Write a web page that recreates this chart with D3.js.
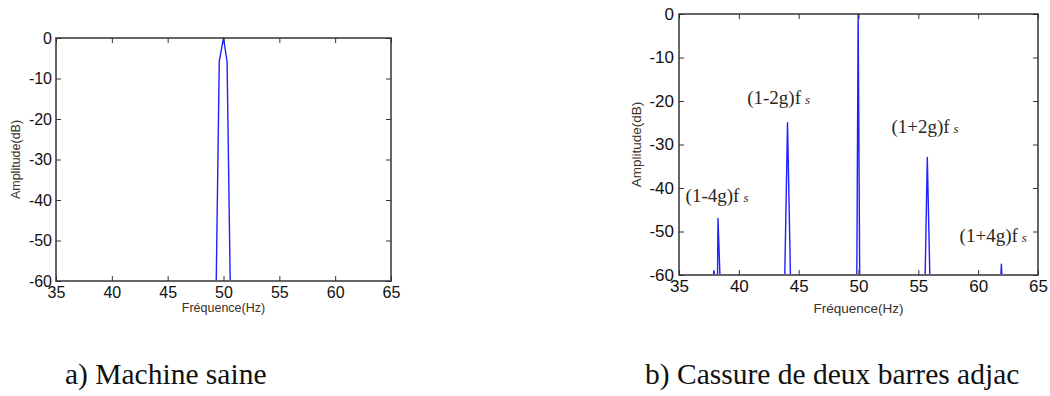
<!DOCTYPE html>
<html>
<head>
<meta charset="utf-8">
<script src="https://cdn.jsdelivr.net/npm/d3@7"></script>
<style>
  html, body { margin: 0; padding: 0; background: #fff; }
  svg { display: block; }
</style>
</head>
<body>
<svg id="fig" width="1050" height="396"></svg>
<script>
// Shared axes (frequency in Hz, amplitude in dB)
const xTicks = [35, 40, 45, 50, 55, 60, 65];
const yTicks = [0, -10, -20, -30, -40, -50, -60];

// a) Healthy machine: single fundamental line at 50 Hz
const healthyFreq = [49.35, 49.62, 50.0, 50.32, 50.6];
const healthyAmp  = [-60, -5.8, 0, -5.8, -60];

// b) Two adjacent broken bars: fundamental plus (1±2kg)fs sidebands
const brokenFreq = [37.88, 37.92, 37.96, 38.22, 38.26, 38.42, 43.84, 44.07, 44.31,
                    49.86, 49.97, 50.1, 55.57, 55.75, 55.96, 61.9, 61.94, 61.98];
const brokenAmp  = [-60, -59, -60, -60, -47, -60, -60, -25, -60,
                    -60, 0, -60, -60, -33, -60, -60, -57.5, -60];

// Sideband annotations
const sbLabels = ["(1-4g)f", "(1-2g)f", "(1+2g)f", "(1+4g)f"];
const sbFreq   = [35.55, 40.7, 52.75, 58.45];
const sbAmp    = [-43.3, -20.8, -27.4, -52.4];

const captions = ["a) Machine saine", "b) Cassure de deux barres adjac"];

const svg = d3.select("#fig");

function panel(cfg) {
  const g = svg.append("g");
  const x = d3.scaleLinear().domain([35, 65]).range([cfg.left, cfg.right]);
  const y = d3.scaleLinear().domain([-60, 0]).range([cfg.bottom, cfg.top]);
  const id = "clip" + cfg.name;

  // the spectrum floor lies on the lower frame edge; keep it under the frame
  g.append("clipPath").attr("id", id).append("rect")
    .attr("x", cfg.left).attr("y", cfg.top - 1)
    .attr("width", cfg.right - cfg.left).attr("height", cfg.bottom - cfg.top);

  const pts = cfg.freq.map((f, i) => [f, cfg.amp[i]]);
  g.append("path")
    .attr("clip-path", `url(#${id})`)
    .attr("d", d3.line().x(d => x(d[0])).y(d => y(d[1]))(pts))
    .attr("fill", "none")
    .attr("stroke", "#1f1fff")
    .attr("stroke-width", 1.4)
    .attr("stroke-linejoin", "round");

  const fs = cfg.tickFont;
  const fmt = d => String(d);
  // bottom axis with labels, ticks pointing inward
  const bx = g.append("g").attr("transform", `translate(0,${cfg.bottom})`)
    .call(d3.axisBottom(x).tickValues(xTicks).tickSize(-5).tickPadding(cfg.xPad).tickFormat(fmt));
  // left axis with labels
  const ly = g.append("g").attr("transform", `translate(${cfg.left},0)`)
    .call(d3.axisLeft(y).tickValues(yTicks).tickSize(-5).tickPadding(cfg.yPad).tickFormat(fmt));
  // top and right axes: ticks only
  const tx = g.append("g").attr("transform", `translate(0,${cfg.top})`)
    .call(d3.axisTop(x).tickValues(xTicks).tickSize(-5).tickFormat(""));
  const ry = g.append("g").attr("transform", `translate(${cfg.right},0)`)
    .call(d3.axisRight(y).tickValues(yTicks).tickSize(-5).tickFormat(""));

  [bx, ly, tx, ry].forEach(a => {
    a.select(".domain").remove();
    a.selectAll(".tick line").attr("stroke", "#333").attr("stroke-width", 1);
    a.selectAll(".tick text")
      .attr("font-family", "Liberation Sans, Arial, sans-serif")
      .attr("font-size", fs)
      .attr("fill", "#111");
  });

  g.append("rect")
    .attr("x", cfg.left).attr("y", cfg.top)
    .attr("width", cfg.right - cfg.left).attr("height", cfg.bottom - cfg.top)
    .attr("fill", "none").attr("stroke", "#333").attr("stroke-width", 1.5);

  g.append("text")
    .attr("x", (cfg.left + cfg.right) / 2).attr("y", cfg.xLabelY)
    .attr("text-anchor", "middle").attr("dominant-baseline", "middle")
    .attr("font-family", "Liberation Sans, Arial, sans-serif")
    .attr("font-size", cfg.labelFont).attr("fill", "#3a3026")
    .text("Fréquence(Hz)");

  g.append("text")
    .attr("transform", `translate(${cfg.yLabelX},${(cfg.top + cfg.bottom) / 2}) rotate(-90)`)
    .attr("text-anchor", "middle").attr("dominant-baseline", "middle")
    .attr("font-family", "Liberation Sans, Arial, sans-serif")
    .attr("font-size", cfg.labelFont).attr("fill", "#3a3026")
    .text("Amplitude(dB)");

  return { x, y, g };
}

const a = panel({
  name: "a", left: 56, right: 391, top: 38, bottom: 281,
  freq: healthyFreq, amp: healthyAmp,
  tickFont: 16, xPad: 6, yPad: 4, labelFont: 12.5, xLabelY: 309, yLabelX: 17
});

const b = panel({
  name: "b", left: 679, right: 1038, top: 14, bottom: 275,
  freq: brokenFreq, amp: brokenAmp,
  tickFont: 17, xPad: 5, yPad: 5, labelFont: 13.5, xLabelY: 309, yLabelX: 637
});

// sideband labels: (1±kg)f with an italic, smaller s
sbLabels.forEach((lab, i) => {
  const t = b.g.append("text")
    .attr("x", b.x(sbFreq[i])).attr("y", b.y(sbAmp[i]))
    .attr("font-family", "Liberation Serif, Times New Roman, serif")
    .attr("font-size", 19).attr("fill", "#2a2620");
  t.append("tspan").text(lab);
  t.append("tspan").attr("font-style", "italic").attr("font-size", 13).attr("dx", 4).text("s");
});

// figure captions
svg.append("text").attr("x", 65).attr("y", 384)
  .attr("font-family", "Liberation Serif, Times New Roman, serif")
  .attr("font-size", 29.5).attr("fill", "#111").text(captions[0]);
svg.append("text").attr("x", 645).attr("y", 384)
  .attr("font-family", "Liberation Serif, Times New Roman, serif")
  .attr("font-size", 29.5).attr("fill", "#111").text(captions[1]);
</script>
</body>
</html>
